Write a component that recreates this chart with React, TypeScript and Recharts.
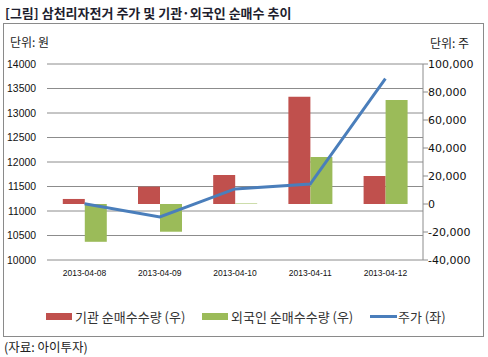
import { ComposedChart, Bar, Line, XAxis, YAxis, CartesianGrid } from 'recharts';

const dates = ['2013-04-08', '2013-04-09', '2013-04-10', '2013-04-11', '2013-04-12'];
const instNet = [3600, 12400, 20700, 76600, 20000];
const foreignNet = [-27000, -19800, 400, 33600, 74300];
const price = [11150, 10880, 11450, 11550, 13700];

const priceTicks = [10000, 10500, 11000, 11500, 12000, 12500, 13000, 13500, 14000];
const qtyTicks = [-40000, -20000, 0, 20000, 40000, 60000, 80000, 100000];

const data = dates.map((d, i) => ({
  date: d,
  inst: instNet[i],
  foreign: foreignNet[i],
  price: price[i],
}));

const kr = '"Noto Sans CJK KR", sans-serif';

export default function App() {
  return (
    <div style={{ position: 'absolute', left: 0, top: 0, width: 488, height: 357, fontFamily: kr, color: '#222', background: '#fff' }}>
      <div style={{ position: 'absolute', left: 5, top: 4, fontSize: 13, fontWeight: 700, lineHeight: '17px', color: '#1e1e2e', whiteSpace: 'nowrap' }}>
        [그림] 삼천리자전거 주가 및 기관·외국인 순매수 추이
      </div>
      <div style={{ position: 'absolute', left: 3, top: 23, width: 479, height: 312, border: '1px solid #8a8a8a' }} />
      <div style={{ position: 'absolute', left: 10, top: 34, fontSize: 12, lineHeight: '16px' }}>단위: 원</div>
      <div style={{ position: 'absolute', left: 430, top: 35, fontSize: 12, lineHeight: '16px' }}>단위: 주</div>

      <div style={{ position: 'absolute', left: 0, top: 0 }}>
        <ComposedChart
          width={488}
          height={300}
          data={data}
          margin={{ top: 64, right: 0, bottom: 10, left: 0 }}
          barGap={0}
          barCategoryGap="21%"
        >
          <CartesianGrid yAxisId="left" vertical={false} stroke="#8c8c8c" strokeWidth={1} />
          <XAxis
            dataKey="date"
            axisLine={false}
            tickLine={false}
            height={30}
            tickMargin={4}
            tick={{ fill: '#111', fontSize: 8.5, fontFamily: '"Liberation Sans", Arial, sans-serif' }}
            interval={0}
          />
          <YAxis
            yAxisId="left"
            orientation="left"
            width={47}
            domain={[10000, 14000]}
            ticks={priceTicks}
            axisLine={false}
            tickLine={false}
            tickMargin={5}
            tick={{ fill: '#111', fontSize: 10.4, fontFamily: '"Liberation Sans", Arial, sans-serif' }}
          />
          <YAxis
            yAxisId="right"
            orientation="right"
            width={65}
            domain={[-40000, 100000]}
            ticks={qtyTicks}
            axisLine={{ stroke: '#8c8c8c' }}
            tickLine={{ stroke: '#8c8c8c' }}
            tickSize={5}
            tickMargin={0}
            tickFormatter={(v: number) => v.toLocaleString('en-US')}
            tick={{ fill: '#111', fontSize: 11, fontFamily: '"DejaVu Sans", sans-serif' }}
          />
          <Bar yAxisId="right" dataKey="inst" fill="#C0504D" isAnimationActive={false} />
          <Bar yAxisId="right" dataKey="foreign" fill="#9BBB59" isAnimationActive={false} />
          <Line
            yAxisId="left"
            type="linear"
            dataKey="price"
            stroke="#4A7EBB"
            strokeWidth={3}
            dot={false}
            isAnimationActive={false}
          />
        </ComposedChart>
      </div>

      <div style={{ position: 'absolute', left: 0, top: 308, width: 488, fontSize: 13, lineHeight: '18px', color: '#333' }}>
        <div style={{ position: 'absolute', left: 46, top: 5, width: 26, height: 7, background: '#C0504D' }} />
        <div style={{ position: 'absolute', left: 75, top: 0, whiteSpace: 'nowrap' }}>기관 순매수수량 (우)</div>
        <div style={{ position: 'absolute', left: 202, top: 5, width: 26, height: 7, background: '#9BBB59' }} />
        <div style={{ position: 'absolute', left: 231, top: 0, whiteSpace: 'nowrap' }}>외국인 순매수수량 (우)</div>
        <div style={{ position: 'absolute', left: 370, top: 7, width: 27, height: 3, background: '#4A7EBB' }} />
        <div style={{ position: 'absolute', left: 398, top: 0, whiteSpace: 'nowrap' }}>주가 (좌)</div>
      </div>

      <div style={{ position: 'absolute', left: 4, top: 339, fontSize: 12.5, lineHeight: '16px', whiteSpace: 'nowrap' }}>(자료: 아이투자)</div>
    </div>
  );
}
